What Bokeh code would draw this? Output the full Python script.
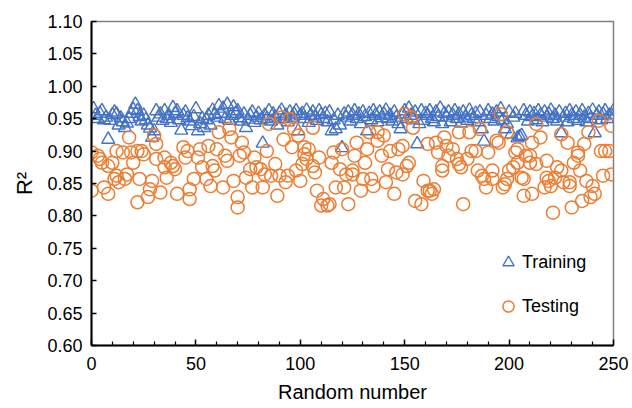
from bokeh.plotting import figure
from bokeh.models import FixedTicker, NumeralTickFormatter, Legend, LegendItem, Range1d
from bokeh.embed import file_html
from bokeh.resources import INLINE

# ---------------- data ----------------
train_x = list(range(1, 251))
train_y = [
    0.965, 0.955, 0.950, 0.958, 0.962, 0.948, 0.952, 0.918, 0.947, 0.956,
    0.960, 0.957, 0.940, 0.951, 0.945, 0.936, 0.943, 0.950, 0.958, 0.964,
    0.972, 0.962, 0.953, 0.946, 0.955, 0.948, 0.940, 0.935, 0.921, 0.931,
    0.962, 0.952, 0.957, 0.947, 0.962, 0.950, 0.955, 0.944, 0.967, 0.958,
    0.962, 0.948, 0.932, 0.955, 0.960, 0.951, 0.946, 0.939, 0.953, 0.965,
    0.931, 0.942, 0.950, 0.936, 0.948, 0.955, 0.940, 0.963, 0.956, 0.952,
    0.970, 0.958, 0.966, 0.950, 0.972, 0.947, 0.955, 0.968, 0.958, 0.962,
    0.951, 0.946, 0.957, 0.936, 0.949, 0.955, 0.960, 0.944, 0.952, 0.958,
    0.948, 0.912, 0.955, 0.950, 0.962, 0.946, 0.957, 0.952, 0.940, 0.958,
    0.963, 0.950, 0.955, 0.945, 0.960, 0.952, 0.957, 0.962, 0.931, 0.955,
    0.958, 0.950, 0.963, 0.944, 0.955, 0.960, 0.952, 0.947, 0.962, 0.956,
    0.950, 0.958, 0.945, 0.960, 0.931, 0.948, 0.934, 0.955, 0.940, 0.905,
    0.957, 0.952, 0.960, 0.946, 0.955, 0.962, 0.950, 0.957, 0.942, 0.960,
    0.953, 0.931, 0.958, 0.948, 0.962, 0.955, 0.945, 0.960, 0.951, 0.957,
    0.963, 0.950, 0.955, 0.946, 0.960, 0.952, 0.942, 0.934, 0.957, 0.962,
    0.950, 0.966, 0.955, 0.948, 0.960, 0.911, 0.942, 0.962, 0.947, 0.958,
    0.955, 0.962, 0.950, 0.945, 0.960, 0.953, 0.966, 0.942, 0.958, 0.952,
    0.960, 0.945, 0.955, 0.962, 0.950, 0.957, 0.943, 0.960, 0.952, 0.947,
    0.963, 0.955, 0.950, 0.958, 0.945, 0.960, 0.934, 0.915, 0.955, 0.962,
    0.950, 0.957, 0.946, 0.960, 0.953, 0.965, 0.948, 0.934, 0.942, 0.960,
    0.926, 0.952, 0.958, 0.920, 0.922, 0.924, 0.962, 0.955, 0.946, 0.960,
    0.953, 0.958, 0.948, 0.962, 0.955, 0.945, 0.960, 0.952, 0.957, 0.963,
    0.950, 0.955, 0.946, 0.960, 0.928, 0.952, 0.958, 0.945, 0.962, 0.955,
    0.950, 0.960, 0.947, 0.955, 0.962, 0.952, 0.945, 0.958, 0.950, 0.963,
    0.928, 0.955, 0.960, 0.948, 0.957, 0.962, 0.950, 0.955, 0.955, 0.962,
]

test_x = [
    0, 3, 4, 5, 0, 6, 8, 8, 10, 12, 11, 13, 12, 15, 17, 16, 18, 19, 22, 20,
    22, 23, 24, 25, 27, 28, 29, 30, 31, 31, 33, 35, 35, 36, 38, 39, 40, 41,
    44, 46, 45, 49, 47, 47, 51, 52, 53, 55, 56, 57, 58, 59, 60, 61, 63, 64,
    65, 66, 67, 68, 70, 70, 71, 72, 73, 74, 76, 77, 78, 79, 81, 82, 83, 84, 85,
    91, 95, 97, 99, 106, 92, 96, 88, 86, 90, 94, 93, 98, 100, 101, 102, 103,
    104, 102, 89, 106, 107, 108, 109, 111, 110, 113, 114, 115, 116, 117, 119,
    120, 121, 122, 123, 125, 125, 126, 127,
    132, 130, 134, 131, 129, 135, 133, 137, 137, 140, 139, 142, 141, 143, 145,
    146, 147, 149, 149, 151, 152, 150, 153, 154, 155, 158, 159, 161, 161, 162,
    163, 164, 165, 166, 168, 168, 169, 170,
    171, 173, 176, 175, 176, 177, 180, 181, 182, 184, 185, 187, 186, 188, 189,
    190, 192, 192, 194, 195, 196, 197, 198, 199, 199, 200, 202, 203, 204, 204,
    206, 207, 208, 207, 210, 211, 211, 213, 213, 178,
    215, 210, 218, 225, 228, 238, 236, 233, 233, 231, 234, 243, 249, 244, 246,
    248, 245, 249, 223, 225, 218, 219, 222, 220, 217, 226, 229, 229, 237, 240,
    241, 239, 235, 230, 221,
]
test_y = [
    0.898, 0.893, 0.888, 0.882, 0.839, 0.844, 0.834, 0.877, 0.882, 0.862,
    0.857, 0.852, 0.900, 0.898, 0.864, 0.857, 0.921, 0.898, 0.900, 0.882,
    0.821, 0.857, 0.900, 0.895, 0.829, 0.841, 0.854, 0.924, 0.911, 0.888,
    0.836, 0.890, 0.875, 0.859, 0.882, 0.877, 0.872, 0.834,
    0.906, 0.900, 0.890, 0.857, 0.841, 0.826, 0.890, 0.903, 0.875, 0.857,
    0.908, 0.846, 0.877, 0.870, 0.903, 0.929, 0.844, 0.893, 0.885, 0.934,
    0.921, 0.854, 0.829, 0.813, 0.893, 0.913, 0.898, 0.859, 0.872, 0.844,
    0.890, 0.875, 0.872, 0.844, 0.864, 0.900, 0.942,
    0.952, 0.949, 0.934, 0.924, 0.936, 0.918, 0.906, 0.880, 0.862, 0.862,
    0.862, 0.852, 0.870, 0.854, 0.880, 0.895, 0.888, 0.903, 0.906, 0.831,
    0.877, 0.867, 0.839, 0.890, 0.826, 0.816, 0.816, 0.818, 0.882, 0.898,
    0.844, 0.872, 0.903, 0.844, 0.864, 0.818, 0.864, 0.870, 0.893, 0.913,
    0.903, 0.857, 0.857, 0.882, 0.839, 0.846, 0.929, 0.916, 0.929, 0.924,
    0.893, 0.872, 0.852, 0.900, 0.834, 0.867, 0.903, 0.908, 0.864, 0.877,
    0.882, 0.957, 0.952, 0.936, 0.823, 0.818, 0.854, 0.911, 0.839, 0.839,
    0.834, 0.841, 0.913, 0.898, 0.870, 0.877, 0.921, 0.908,
    0.893, 0.903, 0.929, 0.888, 0.880, 0.875, 0.888, 0.929, 0.900, 0.900,
    0.870, 0.862, 0.934, 0.857, 0.844, 0.898, 0.870, 0.857, 0.916, 0.913,
    0.957, 0.844, 0.849, 0.857, 0.929, 0.870, 0.875, 0.898, 0.903, 0.882,
    0.859, 0.857, 0.893, 0.831, 0.882, 0.834, 0.913, 0.880, 0.942, 0.818,
    0.921, 0.893, 0.885, 0.926, 0.913, 0.929, 0.911, 0.898, 0.893, 0.882,
    0.870, 0.947, 0.939, 0.900, 0.900, 0.900, 0.862, 0.864, 0.875, 0.870,
    0.859, 0.854, 0.859, 0.846, 0.844, 0.852, 0.852, 0.846, 0.854, 0.846,
    0.834, 0.829, 0.823, 0.813, 0.805,
]

x_ticks = [0, 50, 100, 150, 200, 250]
x_minor_ticks = [10, 20, 30, 40, 60, 70, 80, 90, 110, 120, 130, 140,
                 160, 170, 180, 190, 210, 220, 230, 240]
y_ticks = [0.60, 0.65, 0.70, 0.75, 0.80, 0.85, 0.90, 0.95, 1.00, 1.05, 1.10]

FONT = "Liberation Sans"
BLUE = "#4472C4"
ORANGE = "#ED7D31"

# ---------------- figure ----------------
p = figure(width=632, height=408, output_backend="svg", toolbar_location=None,
           x_range=Range1d(0, 250), y_range=Range1d(0.6, 1.1),
           min_border_left=91, min_border_right=19, min_border_top=21,
           min_border_bottom=63)
p.grid.visible = False
p.outline_line_color = "#808080"
p.outline_line_width = 1.5
p.background_fill_color = "white"
p.border_fill_color = "white"

r_train = p.scatter(train_x, train_y, marker="triangle", size=13,
                    fill_color=None, line_color=BLUE, line_width=1.4)
r_test = p.scatter(test_x, test_y, marker="circle", size=13,
                   fill_color=None, line_color=ORANGE, line_width=1.5)

for ax in (p.xaxis[0], p.yaxis[0]):
    ax.axis_line_color = "black"
    ax.axis_line_width = 2
    ax.major_tick_line_color = "black"
    ax.major_tick_line_width = 1.5
    ax.major_tick_out = 0
    ax.major_label_text_font = FONT
    ax.major_label_text_font_size = "18px"
    ax.major_label_text_color = "black"
    ax.axis_label_text_font = FONT
    ax.axis_label_text_font_size = "20px"
    ax.axis_label_text_font_style = "normal"
    ax.axis_label_text_color = "black"

p.xaxis.ticker = FixedTicker(ticks=x_ticks, minor_ticks=x_minor_ticks)
p.xaxis.major_tick_in = 6
p.xaxis.minor_tick_in = 4
p.xaxis.minor_tick_out = 0
p.xaxis.minor_tick_line_color = "black"
p.xaxis.minor_tick_line_width = 1.2
p.xaxis.major_label_standoff = 11
p.xaxis.axis_label = "Random number"
p.xaxis.axis_label_standoff = 8

p.yaxis.ticker = FixedTicker(ticks=y_ticks, minor_ticks=[])
p.yaxis.formatter = NumeralTickFormatter(format="0.00")
p.yaxis.major_tick_in = 5
p.yaxis.minor_tick_line_color = None
p.yaxis.major_label_standoff = 9
p.yaxis.axis_label = "R²"
p.yaxis.axis_label_text_font_size = "22px"
p.yaxis.axis_label_standoff = 7

legend = Legend(items=[LegendItem(label="Training", renderers=[r_train]),
                       LegendItem(label="Testing", renderers=[r_test])],
                location=(403, 24), glyph_width=28, glyph_height=30,
                label_standoff=0, spacing=14, padding=10,
                border_line_color=None, background_fill_alpha=0,
                label_text_font=FONT, label_text_font_size="18px",
                label_text_color="black")
p.add_layout(legend)

open("out.html", "w").write(file_html(p, INLINE))
